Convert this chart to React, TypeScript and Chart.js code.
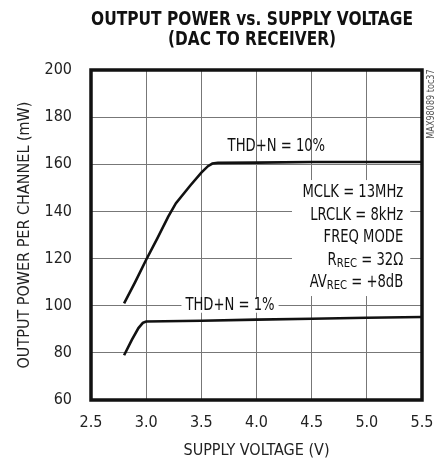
import React, { useEffect, useRef } from "react";
import { Chart, registerables } from "chart.js";

Chart.register(...registerables);

const FONT = '"Liberation Sans Narrow", "DejaVu Sans Condensed", "Arial Narrow", sans-serif';

const titleLines = ["OUTPUT POWER vs. SUPPLY VOLTAGE", "(DAC TO RECEIVER)"];
const xTitle = "SUPPLY VOLTAGE (V)";
const yTitle = "OUTPUT POWER PER CHANNEL (mW)";
const sideNote = "MAX98089 toc37";

const upperVoltage = [2.8, 2.9, 3.0, 3.1, 3.2, 3.27, 3.4, 3.5, 3.56, 3.6, 3.65, 4.0, 4.5, 5.0, 5.5];
const upperPower = [101, 110, 119.5, 128.5, 137.8, 143.5, 151, 156.5, 159.2, 160.3, 160.6, 160.7, 161, 161, 161];
const lowerVoltage = [2.8, 2.87, 2.93, 2.97, 3.0, 3.5, 4.0, 4.5, 5.0, 5.5];
const lowerPower = [79, 85.5, 90.5, 92.7, 93.3, 93.6, 94.1, 94.5, 94.9, 95.2];

const upperLabel = "THD+N = 10%";
const lowerLabel = "THD+N = 1%";
const conditions: { main: string; sub?: string; rest?: string }[] = [
  { main: "MCLK = 13MHz" },
  { main: "LRCLK = 8kHz" },
  { main: "FREQ MODE" },
  { main: "R", sub: "REC", rest: " = 32Ω" },
  { main: "AV", sub: "REC", rest: " = +8dB" },
];

const toPts = (xs: number[], ys: number[]) => xs.map((x, i) => ({ x, y: ys[i] }));

const SX = 0.86;

const decorPlugin = {
  id: "decor",
  afterDraw(chart: any) {
    const ctx = chart.ctx as CanvasRenderingContext2D;
    const { chartArea } = chart;
    const xs = chart.scales.x;
    const ys = chart.scales.y;
    ctx.save();

    // Title (bold condensed), horizontally fitted
    const titleWidths = [322, 168];
    const titleBase = [25, 45];
    ctx.fillStyle = "#111";
    ctx.textBaseline = "alphabetic";
    ctx.textAlign = "left";
    ctx.font = `bold 20px ${FONT}`;
    titleLines.forEach((t, i) => {
      const w = ctx.measureText(t).width;
      const sx = titleWidths[i] / w;
      ctx.save();
      ctx.translate(252 - titleWidths[i] / 2, titleBase[i]);
      ctx.scale(sx, 1);
      ctx.fillText(t, 0, 0);
      ctx.restore();
    });

    // Side note
    ctx.save();
    ctx.font = `10px ${FONT}`;
    ctx.fillStyle = "#555";
    ctx.translate(431, 104);
    ctx.rotate(-Math.PI / 2);
    ctx.scale(0.9, 1);
    ctx.textAlign = "center";
    ctx.textBaseline = "middle";
    ctx.fillText(sideNote, 0, 0);
    ctx.restore();

    const drawScaled = (t: string, x: number, y: number, font: string) => {
      ctx.save();
      ctx.font = font;
      ctx.textAlign = "left";
      ctx.translate(x, y);
      ctx.scale(SX, 1);
      ctx.fillText(t, 0, 0);
      ctx.restore();
    };
    const widthOf = (t: string, font: string) => {
      ctx.font = font;
      return ctx.measureText(t).width * SX;
    };

    const F = `17px ${FONT}`;
    const FS = `13px ${FONT}`;
    ctx.fillStyle = "#111";
    ctx.textBaseline = "middle";

    // THD+N = 10%
    {
      const cx = xs.getPixelForValue(4.18);
      const cy = ys.getPixelForValue(167.5);
      const w = widthOf(upperLabel, F);
      drawScaled(upperLabel, cx - w / 2, cy, F);
    }

    // THD+N = 1% with white background
    {
      const lx = xs.getPixelForValue(3.76);
      const ly = ys.getPixelForValue(100);
      const lw = widthOf(lowerLabel, F);
      ctx.fillStyle = "#fff";
      ctx.fillRect(lx - lw / 2 - 4, ly - 7, lw + 8, 14);
      ctx.fillStyle = "#111";
      drawScaled(lowerLabel, lx - lw / 2, ly, F);
    }

    // Conditions block
    const right = xs.getPixelForValue(5.33);
    const top0 = ys.getPixelForValue(147.8);
    const step = 22.5;
    ctx.fillStyle = "#fff";
    ctx.fillRect(292, top0 - 13, right + 7 - 292, step * 4 + 26);
    ctx.fillStyle = "#111";
    conditions.forEach((c, i) => {
      const y = top0 + i * step;
      const wMain = widthOf(c.main, F);
      const wRest = c.rest ? widthOf(c.rest, F) : 0;
      const wSub = c.sub ? widthOf(c.sub, FS) : 0;
      let x = right - (wMain + wSub + wRest);
      drawScaled(c.main, x, y, F);
      x += wMain;
      if (c.sub) {
        drawScaled(c.sub, x, y + 3, FS);
        x += wSub;
      }
      if (c.rest) drawScaled(c.rest, x, y, F);
    });

    // Frame
    ctx.strokeStyle = "#111";
    ctx.lineWidth = 3.5;
    ctx.strokeRect(chartArea.left, chartArea.top, chartArea.right - chartArea.left, chartArea.bottom - chartArea.top);
    ctx.restore();
  },
};

export default function App() {
  const ref = useRef<HTMLCanvasElement | null>(null);
  useEffect(() => {
    if (!ref.current) return;
    const chart = new Chart(ref.current, {
      type: "scatter",
      data: {
        datasets: [
          {
            data: toPts(upperVoltage, upperPower),
            showLine: true,
            borderColor: "#111",
            borderWidth: 2.6,
            pointRadius: 0,
            tension: 0,
          },
          {
            data: toPts(lowerVoltage, lowerPower),
            showLine: true,
            borderColor: "#111",
            borderWidth: 2.6,
            pointRadius: 0,
            tension: 0,
          },
        ],
      },
      options: {
        responsive: false,
        animation: false,
        layout: { padding: { top: 70, right: 16, left: 0, bottom: 0 } },
        plugins: { legend: { display: false }, tooltip: { enabled: false }, title: { display: false } },
        scales: {
          x: {
            type: "linear",
            min: 2.5,
            max: 5.5,
            afterFit: (s: any) => {
              s.height = 62;
              s.paddingLeft = 0;
              s.paddingRight = 0;
            },
            ticks: {
              stepSize: 0.5,
              callback: (v: any) => Number(v).toFixed(1),
              font: { family: FONT, size: 16 },
              color: "#222",
              padding: 13,
              maxRotation: 0,
            },
            grid: { color: "#777", lineWidth: 1, drawTicks: false },
            border: { display: false },
            title: {
              display: true,
              text: xTitle,
              font: { family: FONT, size: 16 },
              color: "#222",
              padding: { top: 0, bottom: 2 },
            },
          },
          y: {
            type: "linear",
            min: 60,
            max: 200,
            afterFit: (s: any) => {
              s.width = 91;
            },
            ticks: {
              stepSize: 20,
              font: { family: FONT, size: 16 },
              color: "#222",
              padding: 19,
            },
            grid: { color: "#777", lineWidth: 1, drawTicks: false },
            border: { display: false },
            title: {
              display: true,
              text: yTitle,
              font: { family: FONT, size: 16 },
              color: "#222",
              padding: { top: 15, bottom: 0 },
            },
          },
        },
      },
      plugins: [decorPlugin],
    } as any);
    return () => chart.destroy();
  }, []);
  return (
    <div style={{ position: "fixed", left: 0, top: 0, width: 438, height: 462, background: "#fff" }}>
      <canvas ref={ref} width={438} height={462} style={{ display: "block" }} />
    </div>
  );
}
